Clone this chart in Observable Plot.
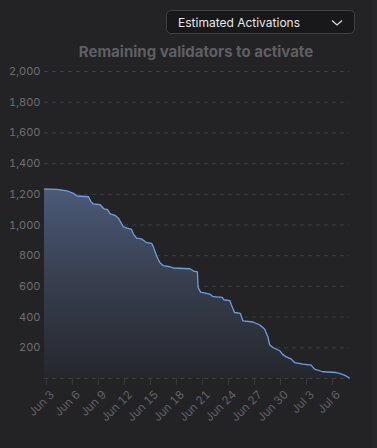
<!DOCTYPE html>
<html>
<head>
<meta charset="utf-8">
<script src="https://cdn.jsdelivr.net/npm/d3@7"></script>
<script src="https://cdn.jsdelivr.net/npm/@observablehq/plot@0.6"></script>
<style>
  html, body { margin: 0; padding: 0; background: #232326; }
  body { width: 377px; height: 448px; position: relative; overflow: hidden; font-family: Inter, "Noto Sans", sans-serif; }
  #strip { position: absolute; left: 372px; top: 0; width: 5px; height: 448px; background: #28282b; }
  #dropdown { position: absolute; left: 166px; top: 10px; width: 189px; height: 24px; box-sizing: border-box;
    border: 1px solid #404045; border-radius: 5px; background: #18181b; color: #e6e6e6; font-size: 12px; }
  #dropdown span { position: absolute; left: 11px; top: 4px; }
  #dropdown svg { position: absolute; left: 164px; top: 8px; }
  #title { position: absolute; left: 0; width: 392px; top: 42px; text-align: center; font-size: 15px; font-weight: 700; color: #5f5f63; }
  #chart { position: absolute; left: 0; top: 0; }
</style>
</head>
<body>
<div id="strip"></div>
<div id="chart"></div>
<div id="dropdown"><span>Estimated Activations</span>
  <svg width="12" height="8" viewBox="0 0 12 8"><path d="M1 1.5 L6 6 L11 1.5" fill="none" stroke="#d8d8d8" stroke-width="1.3"/></svg>
</div>
<div id="title">Remaining validators to activate</div>
<script>
const times = [
  "2024-06-02T19:00Z","2024-06-04T05:30Z","2024-06-05T09:00Z","2024-06-06T03:00Z","2024-06-06T13:00Z",
  "2024-06-07T21:00Z","2024-06-08T03:00Z","2024-06-08T10:00Z","2024-06-09T05:00Z","2024-06-09T16:00Z",
  "2024-06-10T01:00Z","2024-06-10T09:00Z","2024-06-10T22:00Z","2024-06-11T07:00Z","2024-06-11T21:00Z",
  "2024-06-12T07:00Z","2024-06-12T20:00Z","2024-06-13T01:00Z","2024-06-13T10:00Z","2024-06-14T00:00Z",
  "2024-06-14T14:00Z","2024-06-15T04:00Z","2024-06-15T08:00Z","2024-06-15T17:00Z","2024-06-16T02:00Z",
  "2024-06-16T12:00Z","2024-06-17T06:00Z","2024-06-17T15:00Z","2024-06-19T13:00Z","2024-06-20T00:00Z",
  "2024-06-20T10:00Z","2024-06-20T12:00Z","2024-06-20T19:00Z","2024-06-21T20:00Z","2024-06-22T06:00Z",
  "2024-06-23T07:00Z","2024-06-23T11:00Z","2024-06-24T04:00Z","2024-06-24T08:00Z","2024-06-24T17:00Z",
  "2024-06-25T09:00Z","2024-06-25T16:00Z","2024-06-26T20:00Z","2024-06-27T14:00Z","2024-06-28T04:00Z",
  "2024-06-28T13:00Z","2024-06-28T18:00Z","2024-06-29T03:00Z","2024-06-29T22:00Z","2024-06-30T05:00Z",
  "2024-06-30T16:00Z","2024-07-01T06:00Z","2024-07-01T15:00Z","2024-07-02T14:00Z","2024-07-03T13:00Z",
  "2024-07-03T22:00Z","2024-07-04T21:00Z","2024-07-06T10:00Z","2024-07-06T19:00Z","2024-07-07T09:00Z",
  "2024-07-07T23:00Z"
];
const remaining = [
  1234,1232,1223,1206,1189,
  1184,1154,1137,1132,1104,
  1102,1072,1063,1046,989,
  980,971,941,915,909,
  885,880,859,800,756,
  735,728,720,715,700,
  695,593,563,550,533,
  528,513,507,480,430,
  424,376,368,350,322,
  272,220,202,181,159,
  141,126,104,94,87,
  61,44,39,33,22,
  3
];
const xTickDates = ["2024-06-03","2024-06-06","2024-06-09","2024-06-12","2024-06-15","2024-06-18",
  "2024-06-21","2024-06-24","2024-06-27","2024-06-30","2024-07-03","2024-07-06"];
const yTicks = [0,200,400,600,800,1000,1200,1400,1600,1800,2000];

const data = times.map((t, i) => ({date: new Date(t), value: remaining[i]}));
const xTicks = xTickDates.map(d => new Date(d + "T00:00Z"));
const fmtDate = d3.utcFormat("%b %-d");

const plot = Plot.plot({
  width: 377,
  height: 448,
  marginTop: 71,
  marginBottom: 70,
  marginLeft: 44,
  marginRight: 28,
  style: {background: "transparent", color: "#6e6e72", fontFamily: "Inter, 'Noto Sans', sans-serif", fontSize: "11px"},
  x: {type: "utc", domain: [data[0].date, data[data.length - 1].date], label: null},
  y: {domain: [0, 2000], label: null},
  marks: [
    Plot.gridY(yTicks, {stroke: "#3c3c41", strokeOpacity: 1, strokeDasharray: "4,4"}),
    Plot.areaY(data, {x: "date", y: "value", fill: "url(#areaGrad)", curve: "linear"}),
    Plot.lineY(data, {x: "date", y: "value", stroke: "#6c9fe2", strokeWidth: 1.3, curve: "linear"}),
    Plot.axisY(yTicks.filter(d => d > 0), {tickSize: 0, tickPadding: 4, tickFormat: d3.format(","), fill: "#6e6e72", fontSize: 11, label: null}),
    Plot.axisX(xTicks, {tickSize: 7, text: null, stroke: "#3a3a3e", label: null}),
    Plot.axisX(xTicks, {tickSize: 0, tickRotate: -45, tickFormat: fmtDate, fill: "#626266", fontSize: 11.5, tickPadding: 14, dx: 6, label: null})
  ]
});

const svg = d3.select(plot);
const defs = svg.insert("defs", ":first-child");
const g = defs.append("linearGradient").attr("id", "areaGrad").attr("x1", 0).attr("y1", 0).attr("x2", 0).attr("y2", 1);
g.append("stop").attr("offset", "0%").attr("stop-color", "#4b5a77");
g.append("stop").attr("offset", "55%").attr("stop-color", "#353b49");
g.append("stop").attr("offset", "100%").attr("stop-color", "#25272d");

document.getElementById("chart").appendChild(plot);
</script>
</body>
</html>
